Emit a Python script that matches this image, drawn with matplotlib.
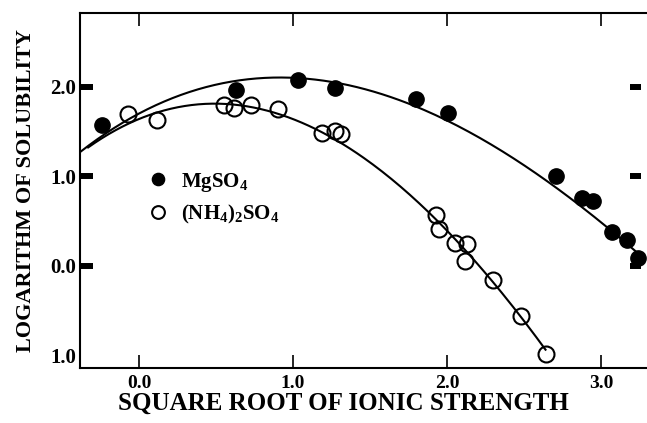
import numpy as np
import matplotlib.pyplot as plt

# -----------------------------------
# Fonts
# -----------------------------------
plt.rcParams["font.family"] = ["Liberation Serif", "DejaVu Serif"]
plt.rcParams["font.weight"] = "bold"
plt.rcParams["mathtext.fontset"] = "custom"
plt.rcParams["mathtext.rm"] = "Liberation Serif:bold"
plt.rcParams["mathtext.it"] = "Liberation Serif:bold"
plt.rcParams["mathtext.bf"] = "Liberation Serif:bold"

# -----------------------------------
# Data
# -----------------------------------
mg_x = [-0.24, 0.63, 1.03, 1.27, 1.80, 2.01, 2.71, 2.88, 2.95, 3.07, 3.17, 3.24]
mg_y = [1.57, 1.97, 2.08, 1.99, 1.87, 1.71, 1.01, 0.76, 0.73, 0.38, 0.29, 0.09]

nh_x = [-0.07, 0.12, 0.55, 0.62, 0.73, 0.90, 1.19, 1.27, 1.31,
        1.93, 1.95, 2.05, 2.13, 2.12, 2.30, 2.48, 2.64]
nh_y = [1.70, 1.63, 1.80, 1.76, 1.80, 1.75, 1.49, 1.51, 1.47,
        0.57, 0.41, 0.26, 0.24, 0.05, -0.16, -0.56, -0.98]

# trend curves as drawn in the figure
mg_curve_x = [-0.38, 0.03, 0.63, 0.92, 1.27, 1.57, 1.80, 2.00, 2.21, 2.32, 2.71, 3.04, 3.23]
mg_curve_y = [1.27, 1.74, 2.06, 2.10, 2.04, 1.96, 1.78, 1.63, 1.40, 1.29, 0.92, 0.44, 0.14]

nh_curve_x = [-0.33, 0.03, 0.27, 0.48, 0.76, 0.91, 1.18, 1.46, 1.80, 1.93, 2.13, 2.30, 2.48, 2.64]
nh_curve_y = [1.27, 1.74, 1.80, 1.83, 1.74, 1.68, 1.44, 1.18, 0.73, 0.57, 0.18, -0.16, -0.56, -0.98]

x_ticks = [0, 1, 2, 3]
x_labels = ["0.0", "1.0", "2.0", "3.0"]
y_ticks = [2, 1, 0, -1]
y_labels = ["2.0", "1.0", "0.0", "1.0"]

# -----------------------------------
# Figure
# -----------------------------------
fig = plt.figure(figsize=(6.47, 4.23), dpi=100)
ax = fig.add_axes([0.1236, 0.130, 0.8764, 0.839])

# smooth curves through the read points
for cx, cy in [(mg_curve_x, mg_curve_y), (nh_curve_x, nh_curve_y)]:
    coef = np.polyfit(cx, cy, 3)
    xs = np.linspace(cx[0], cx[-1], 200)
    ax.plot(xs, np.polyval(coef, xs), color="black", lw=1.5, zorder=2)

ax.plot(nh_x, nh_y, "o", ms=11.5, mfc="none", mec="black", mew=1.5,
        label=r"(NH$_4$)$_2$SO$_4$", zorder=3)
ax.plot(mg_x, mg_y, "o", ms=11, mfc="black", mec="black",
        label=r"MgSO$_4$", zorder=4)

ax.set_xlim(-0.383, 3.299)
ax.set_ylim(-1.14, 2.824)

# -----------------------------------
# Axes styling
# -----------------------------------
ax.spines["right"].set_visible(False)
for s in ["left", "top", "bottom"]:
    ax.spines[s].set_linewidth(1.5)

ax.set_xticks(x_ticks)
ax.set_xticklabels(x_labels, fontsize=14, fontweight="bold")
ax.set_yticks(y_ticks)
ax.set_yticklabels(y_labels, fontsize=15, fontweight="bold")

ax.tick_params(axis="x", direction="in", length=9.5, width=1.2, top=True, pad=5)
ax.tick_params(axis="y", direction="in", length=9.5, width=4.3, pad=3)
ax.yaxis.get_major_ticks()[3].tick1line.set_visible(False)

# short bars on the right edge
ax.hlines(y_ticks[:3], 3.19, 3.26, color="black", lw=4.3)

ax.set_xlabel("SQUARE ROOT OF IONIC STRENGTH", fontsize=18, fontweight="bold")
ax.xaxis.set_label_coords(0.464, -0.068)
ax.set_ylabel("LOGARITHM OF SOLUBILITY", fontsize=16, fontweight="bold", labelpad=10)

handles, labels = ax.get_legend_handles_labels()
leg = ax.legend(handles[::-1], labels[::-1], loc="upper left",
                bbox_to_anchor=(0.12, 0.556), frameon=False, fontsize=15,
                handlelength=1.0, handletextpad=0.6, labelspacing=0.45,
                borderpad=0, borderaxespad=0, markerscale=0.8)

plt.savefig("out.png", dpi=100)
plt.close()
